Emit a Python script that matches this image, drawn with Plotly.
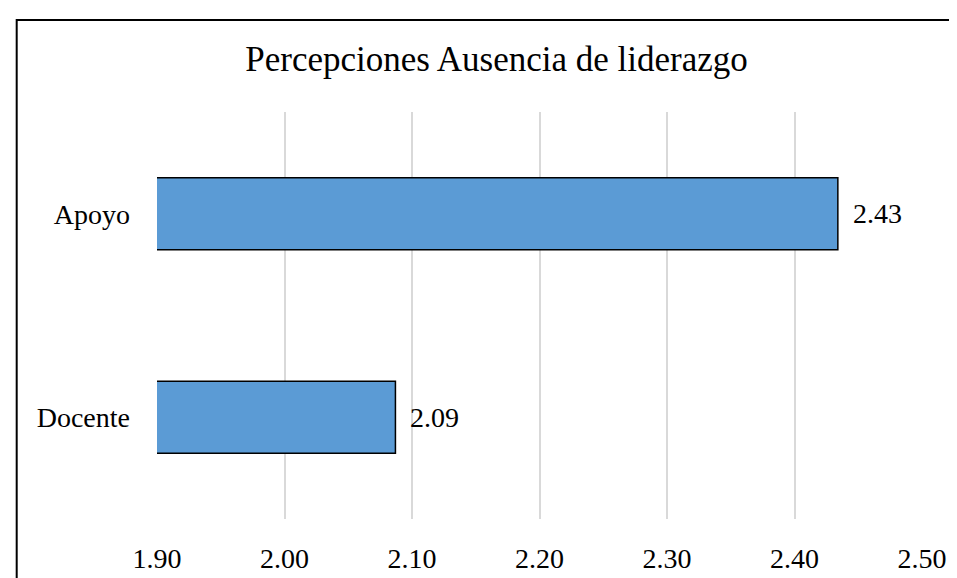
import plotly.graph_objects as go

categories = ["Docente", "Apoyo"]
values = [2.087, 2.434]
value_labels = ["2.09", "2.43"]
tick_vals = [1.9, 2.0, 2.1, 2.2, 2.3, 2.4, 2.5]
tick_text = ["1.90", "2.00", "2.10", "2.20", "2.30", "2.40", "2.50"]
title_text = "Percepciones Ausencia de liderazgo"

FONT = "Liberation Serif, Times New Roman, serif"

fig = go.Figure()
fig.add_trace(go.Bar(
    y=categories, x=values, orientation="h",
    marker=dict(color="#5B9BD5", line=dict(color="#000000", width=1.5)),
    width=0.355, hoverinfo="skip",
))

for c, v, t in zip(categories, values, value_labels):
    fig.add_annotation(x=v, y=c, xref="x", yref="y", text=t, showarrow=False,
                       xanchor="left", yanchor="middle", xshift=13,
                       font=dict(family=FONT, size=28, color="#000000"))

fig.add_shape(type="rect", xref="paper", yref="paper",
              x0=-0.1834, x1=1.2, y0=-0.3, y1=1.2263,
              line=dict(color="#000000", width=2), layer="above")

fig.update_layout(
    width=957, height=578,
    margin=dict(l=149, r=43, t=104, b=60),
    paper_bgcolor="white", plot_bgcolor="white",
    showlegend=False,
    title=dict(text=title_text, x=488.5/957, xanchor="center",
               y=1 - 51/578, yanchor="middle", xref="container", yref="container",
               font=dict(family=FONT, size=35, color="#000000")),
    xaxis=dict(range=[1.9, 2.5], tickvals=tick_vals, ticktext=tick_text,
               showgrid=True, gridcolor="#D9D9D9", gridwidth=1.5,
               zeroline=False, showline=False, ticks="",
               ticklabelstandoff=20,
               tickfont=dict(family=FONT, size=28, color="#000000")),
    yaxis=dict(categoryorder="array", categoryarray=categories,
               showgrid=False, zeroline=False, showline=False, ticks="",
               ticklabelstandoff=26,
               tickfont=dict(family=FONT, size=28, color="#000000")),
)

fig.write_html("out.html")
